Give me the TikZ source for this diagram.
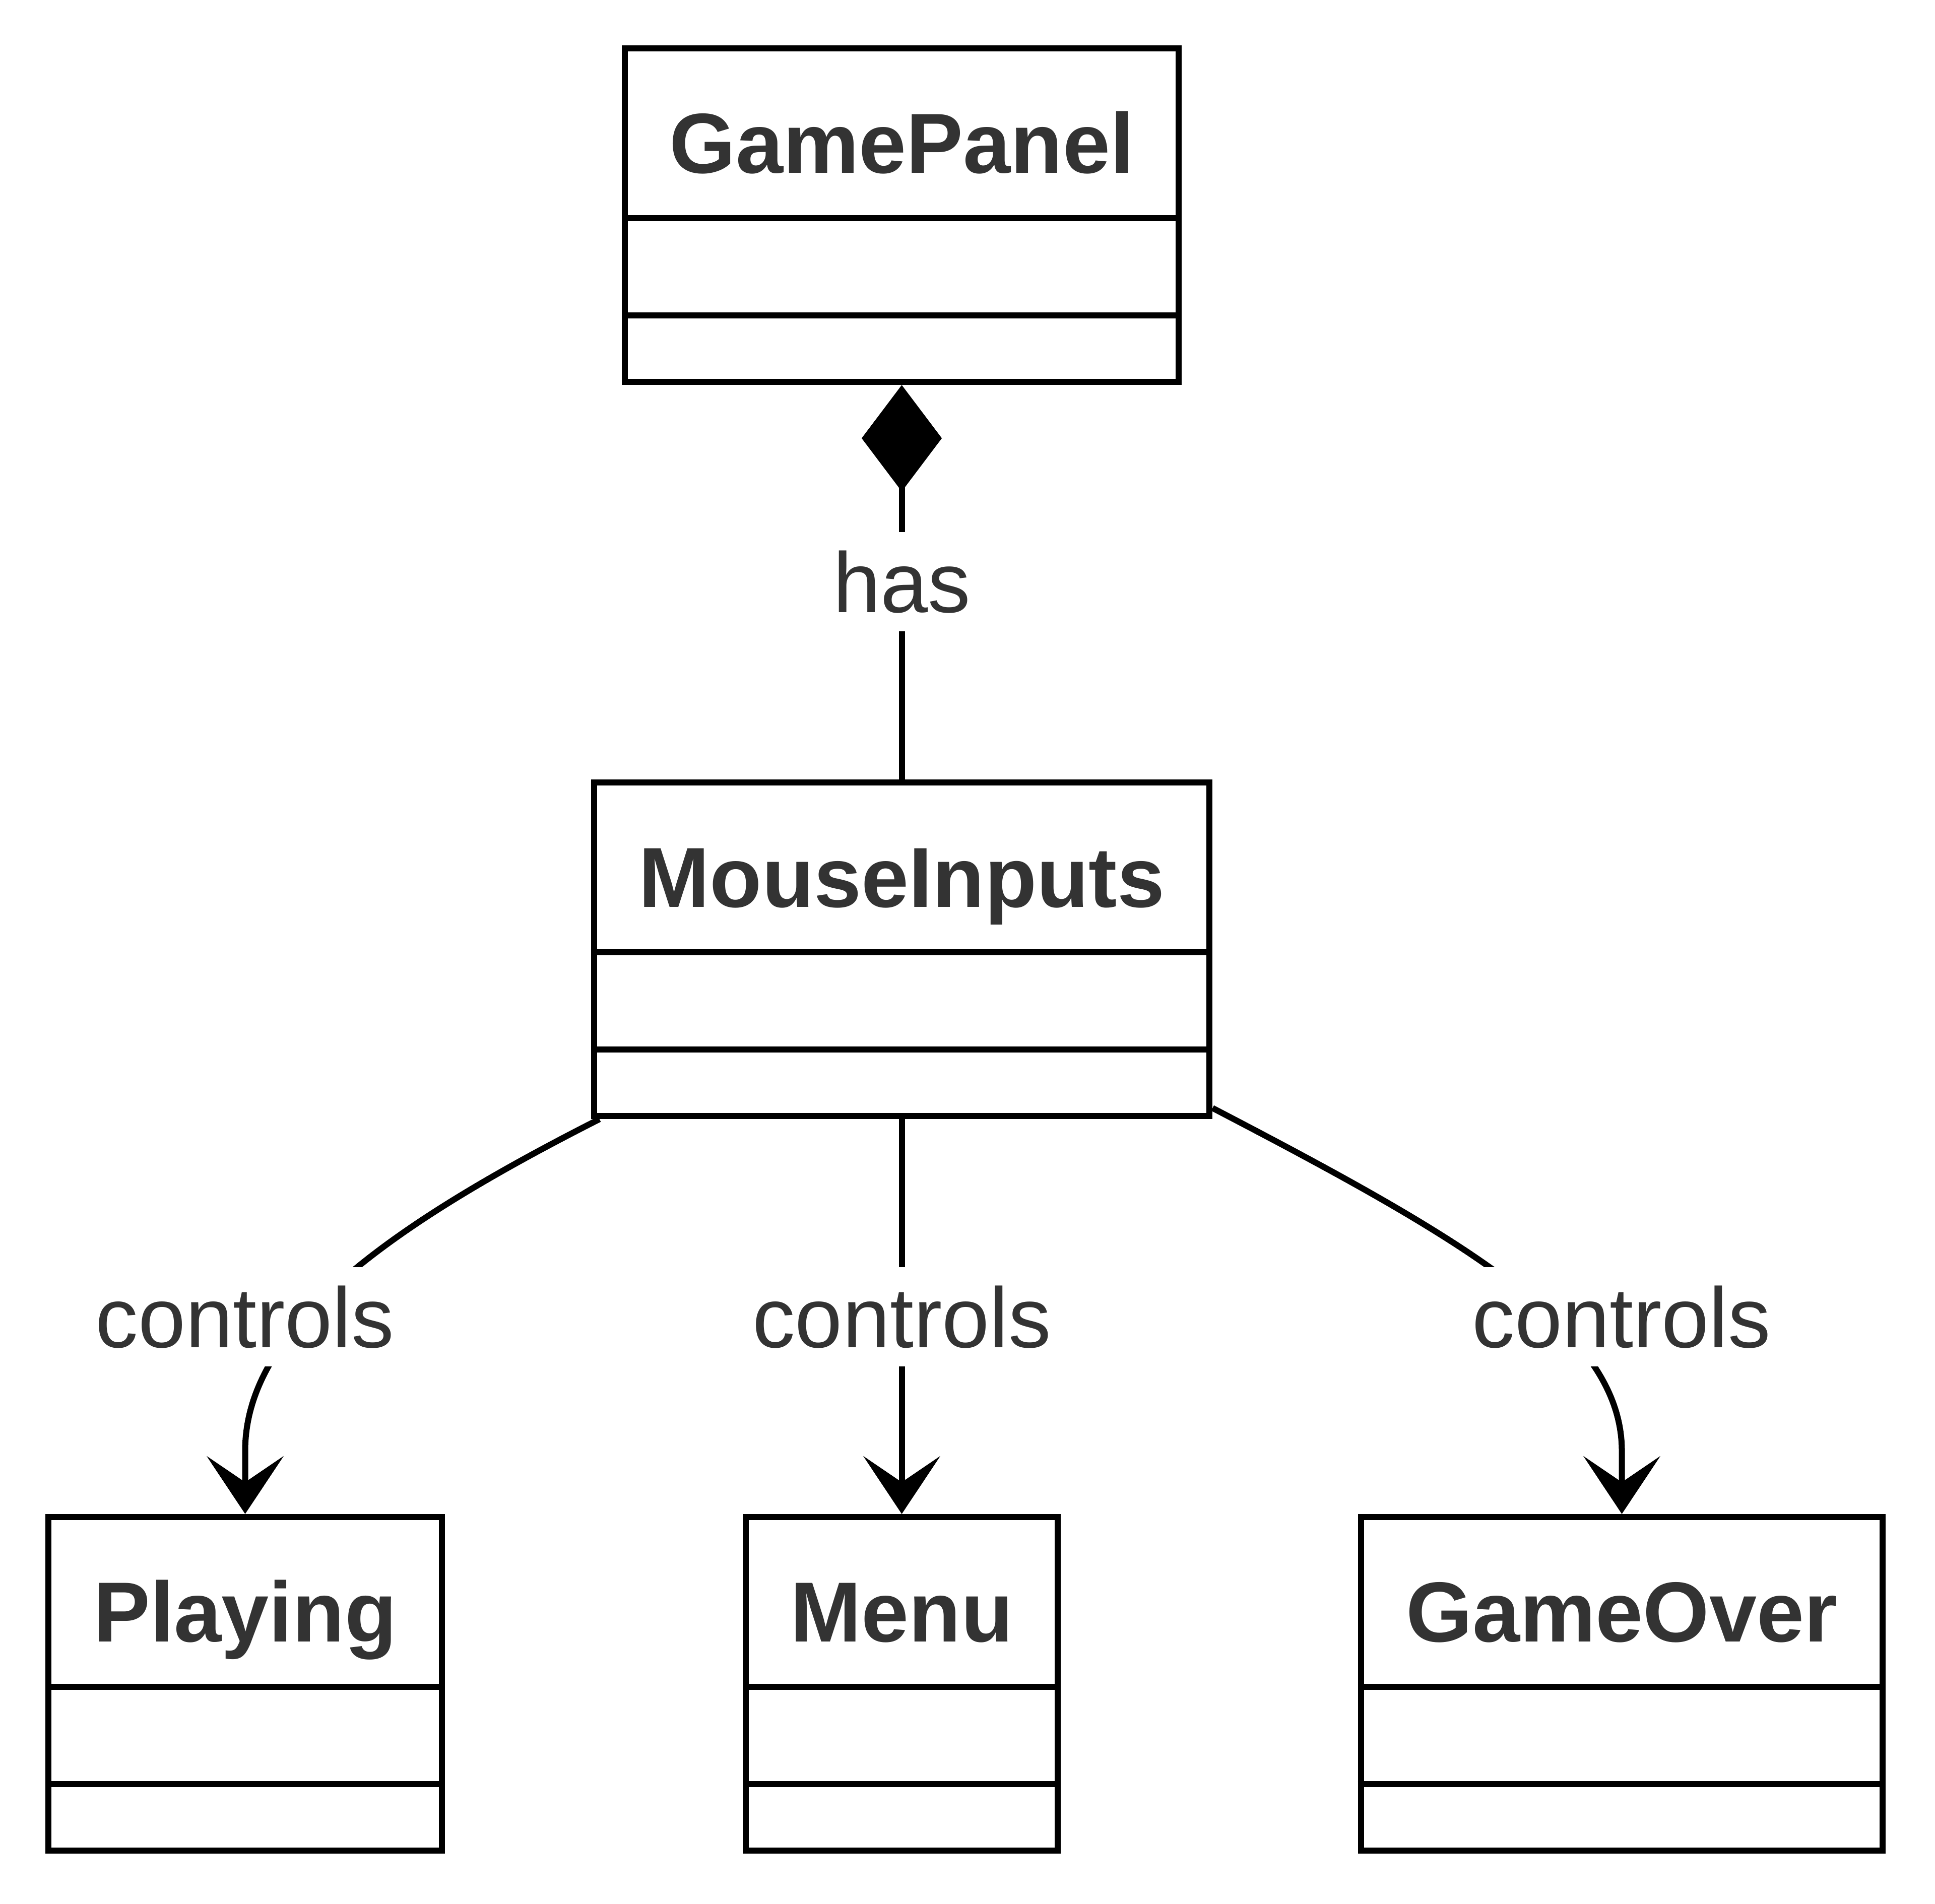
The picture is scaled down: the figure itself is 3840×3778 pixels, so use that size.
\documentclass[tikz,border=0pt]{standalone}
\usepackage{fontspec}
\setmainfont{Liberation Sans}
\usetikzlibrary{arrows.meta,calc}
\definecolor{txt}{HTML}{333333}
\newcommand\umlclass[5]{%
  \node[cls, minimum width=#4] (#1) at (#2, #3+331) {};
  \node[ttl] (#1t) at (#2, #3+247) {#5};
  \draw[divline] ($(#1.north west)+(0,343)$) -- ($(#1.north east)+(0,343)$);
  \draw[divline] ($(#1.north west)+(0,536)$) -- ($(#1.north east)+(0,536)$);
}
\begin{document}
\begin{tikzpicture}[x=0.01cm,y=-0.01cm,
  cls/.style={draw=black, line width=0.12cm, minimum height=6.62cm, inner sep=0pt, fill=white},
  ttl/.style={anchor=base, text=txt, inner sep=0pt, font=\fontsize{48.1pt}{58pt}\selectfont\bfseries},
  divline/.style={draw=black, line width=0.12cm},
  lbl/.style={anchor=base, fill=white, text=txt, inner xsep=0.1cm, inner ysep=0.36cm, font=\fontsize{48.1pt}{58pt}\selectfont},
  conn/.style={draw=black, line width=0.12cm, -{Stealth[length=1.15cm,width=1.53cm,inset=0.52cm,line width=0pt]}},
  comp/.style={draw=black, line width=0.12cm, {Diamond[length=2.11cm,width=1.59cm,line width=0pt]}-}
]
\useasboundingbox (0,0) rectangle (3840,3778);
\umlclass{gp}{1789.5}{96}{10.98cm}{GamePanel}
\umlclass{mi}{1789.5}{1553}{12.21cm}{MouseInputs}
\umlclass{play}{486.5}{3011}{7.81cm}{Playing}
\umlclass{menu}{1789.5}{3011}{6.18cm}{Menu}
\umlclass{go}{3218.5}{3011}{10.35cm}{GameOver}
% connectors
\draw[comp] (gp.south) -- (mi.north);
\draw[conn] (mi.south) -- (menu.north);
\draw[conn] ($(mi.south west)+(17,0)$) .. controls ($(mi.south west)+(-413,218)$) and ($(play.north)+(0,-365)$) .. ($(play.north)+(0,-125)$) -- (play.north);
\draw[conn] ($(mi.south east)+(0,-22)$) .. controls ($(mi.south east)+(499,238)$) and ($(go.north)+(0,-365)$) .. ($(go.north)+(0,-125)$) -- (go.north);
% labels
\node[lbl] (lhas) at (1789.5,1215) {has};
\node[lbl] (lc1) at (486,2674) {controls};
\node[lbl] (lc2) at (1789.5,2674) {controls};
\node[lbl] (lc3) at (3218,2674) {controls};
\end{tikzpicture}
\end{document}
